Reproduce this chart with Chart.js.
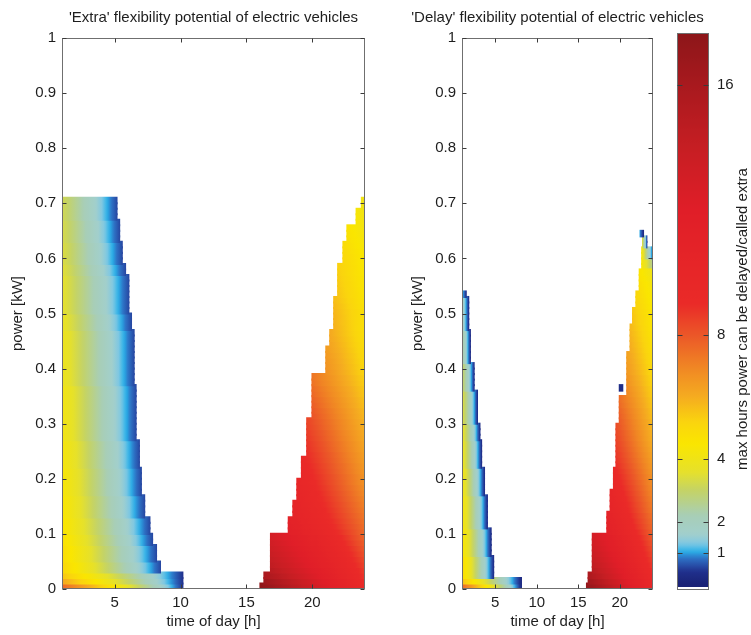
<!DOCTYPE html>
<html>
<head>
<meta charset="utf-8">
<title>Flexibility potential of electric vehicles</title>
<script src="https://cdn.jsdelivr.net/npm/chart.js@4.4.1/dist/chart.umd.min.js"></script>
<style>
  html, body { margin: 0; padding: 0; background: #ffffff; }
  #wrap { position: relative; width: 751px; height: 635px; overflow: hidden; }
  canvas { position: absolute; top: 0; }
</style>
</head>
<body>
<div id="wrap">
  <canvas id="extra" width="375" height="635" style="left:0px"></canvas>
  <canvas id="delay" width="376" height="635" style="left:375px"></canvas>
  <canvas id="cbar" width="91" height="635" style="left:660px"></canvas>
</div>
<script>
// ---- axis ticks -------------------------------------------------------
const hourTicks = [5, 10, 15, 20];
const barTicks = [1, 2, 4, 8, 16];
const barRange = [-0.19, 17.67];   // colour scale limits (hours)

// evening values are given at these two hours, one value per 0.01 kW row
const eveningAnchor = [16, 24];

// ---- 'Extra' panel: morning block, from 1 h up to the edge hour ----------
// each step covers power from the previous top to this top (kW)
const extraAmTop  = [0.01, 0.02, 0.03, 0.05, 0.08, 0.10, 0.13, 0.17, 0.22, 0.27, 0.37, 0.47, 0.50, 0.57, 0.59, 0.63, 0.67, 0.71];
const extraAmEdge = [10.2, 10.2, 10.2, 8.5, 8.2, 7.9, 7.7, 7.3, 7.05, 6.9, 6.65, 6.5, 6.3, 6.1, 5.85, 5.6, 5.4, 5.2];
const extraAmFrom = [7.6, 6.1, 5.5, 5.1, 4.9, 4.75, 4.6, 4.5, 4.4, 4.3, 4.15, 3.95, 3.8, 3.65, 3.55, 3.45, 3.35, 3.25];
const extraAmTo   = [0.4, 0.4, 0.4, 0.55, 0.55, 0.55, 0.55, 0.55, 0.55, 0.55, 0.55, 0.55, 0.55, 0.55, 0.55, 0.55, 0.55, 0.55];

// ---- 'Extra' panel: evening block, from the start hour to 24 h -----------
const extraPmTop   = [0.01, 0.03, 0.10, 0.13, 0.16, 0.20, 0.24, 0.31, 0.39, 0.44, 0.47, 0.53, 0.59, 0.63, 0.66, 0.69, 0.71];
const extraPmStart = [16.0, 16.3, 16.8, 18.15, 18.5, 18.8, 19.15, 19.55, 19.95, 21.0, 21.3, 21.6, 21.9, 22.3, 22.6, 23.3, 23.7];
const extraPmAt16  = [
  17.6, 17.0, 16.2, 15.6, 15.1, 14.8, 14.5, 14.2, 13.9, 13.6,
  13.0, 12.6, 12.4, 12.2, 12.1, 12.0, 11.9, 11.8, 11.7, 11.6,
  11.5, 11.4, 11.3, 11.2, 11.1, 11.0, 10.9, 10.8, 10.7, 10.6,
  10.5, 10.4, 10.25, 10.1, 9.95, 9.8, 9.65, 9.5, 9.4, 9.3,
  9.2, 9.1, 9.0, 8.9, 8.8, 8.7, 8.65, 8.6, 8.55, 8.5,
  8.4, 8.3, 8.2, 8.1, 8.0, 7.9, 7.8, 7.7, 7.6, 7.5,
  7.4, 7.3, 7.2, 7.1, 7.0, 6.9, 6.8, 6.7, 6.6, 6.5, 6.4];
const extraPmAt24  = [
  9.1, 8.9, 8.7, 8.55, 8.4, 8.25, 8.1, 7.95, 7.8, 7.65,
  7.55, 7.45, 7.35, 7.25, 7.15, 7.05, 6.95, 6.85, 6.75, 6.65,
  6.6, 6.5, 6.45, 6.35, 6.3, 6.2, 6.15, 6.05, 6.0, 5.9,
  5.85, 5.75, 5.7, 5.6, 5.55, 5.45, 5.4, 5.3, 5.25, 5.15,
  5.1, 5.05, 5.0, 4.95, 4.9, 4.85, 4.8, 4.78, 4.76, 4.74,
  4.72, 4.68, 4.62, 4.58, 4.56, 4.54, 4.52, 4.48, 4.46, 4.44,
  4.42, 4.38, 4.32, 4.28, 4.22, 4.18, 4.16, 4.14, 4.12, 4.08, 4.02];

// ---- 'Delay' panel: morning block ------------------------------------------
const delayAmTop  = [0.01, 0.02, 0.06, 0.11, 0.17, 0.22, 0.27, 0.30, 0.36, 0.41, 0.47, 0.53, 0.54];
const delayAmEdge = [8.2, 8.2, 4.85, 4.55, 4.1, 3.75, 3.4, 3.2, 2.9, 2.5, 2.05, 1.85, 1.55];
const delayAmFrom = [7.6, 5.6, 5.0, 4.6, 4.4, 4.2, 4.0, 3.9, 3.6, 3.2, 2.6, 2.0, 1.2];
const delayAmTo   = [0.2, 0.2, 0.3, 0.3, 0.3, 0.3, 0.3, 0.3, 0.3, 0.3, 0.3, 0.3, 0.3];

// ---- 'Delay' panel: evening block up to 0.58 kW ------------------------------
const delayPmTop   = [0.01, 0.03, 0.10, 0.14, 0.18, 0.22, 0.30, 0.35, 0.36, 0.43, 0.48, 0.51, 0.54, 0.58];
const delayPmStart = [15.95, 16.15, 16.65, 18.4, 18.8, 19.2, 19.5, 19.9, 20.8, 20.8, 21.2, 21.5, 21.9, 22.3];
const delayPmAt16  = [
  17.3, 16.6, 15.9, 15.4, 15.0, 14.6, 14.3, 14.0, 13.75, 13.5,
  13.0, 12.6, 12.4, 12.2, 12.1, 12.0, 11.85, 11.7, 11.55, 11.4,
  11.25, 11.1, 10.95, 10.8, 10.7, 10.6, 10.5, 10.4, 10.3, 10.2,
  10.1, 10.0, 9.85, 9.7, 9.55, 9.4, 9.25, 9.1, 8.95, 8.8,
  8.7, 8.6, 8.5, 8.4, 8.3, 8.2, 8.1, 8.0, 7.9, 7.8,
  7.7, 7.6, 7.5, 7.4, 7.3, 7.2, 7.1, 7.0];
const delayPmAt24  = [
  9.6, 9.3, 9.0, 8.8, 8.6, 8.45, 8.3, 8.15, 8.0, 7.85,
  7.7, 7.55, 7.45, 7.35, 7.2, 7.1, 7.0, 6.9, 6.8, 6.7,
  6.6, 6.5, 6.4, 6.3, 6.2, 6.1, 6.0, 5.9, 5.85, 5.75,
  5.7, 5.6, 5.55, 5.45, 5.4, 5.3, 5.25, 5.15, 5.1, 5.0,
  4.95, 4.9, 4.85, 4.8, 4.75, 4.7, 4.65, 4.6, 4.55, 4.5,
  4.45, 4.4, 4.35, 4.3, 4.25, 4.2, 4.1, 4.0];

// ---- 'Delay' panel: evening tip above 0.58 kW --------------------------------
const delayTipBase  = 0.58;
const delayTipTop   = [0.60, 0.62, 0.64, 0.65];
const delayTipStart = [22.6, 22.6, 22.7, 22.4];
const delayTipEnd   = [24, 23.9, 23.3, 22.9];
const delayTipFrom  = [4.4, 4.3, 3.5, 1.0];
const delayTipTo    = [2.5, 0.8, 0.3, 0.2];

// single isolated cell in the evening 'Delay' block
const delayDotPower = [0.36, 0.37];
const delayDotHours = [19.9, 20.4];
const delayDotValue = 0.3;

// ---- colour map: [hours, r, g, b] ------------------------------------------
const palette = [
  [0.0, 26, 34, 118], [0.4, 32, 48, 140], [0.6, 40, 78, 168], [0.85, 46, 118, 200],
  [1.0, 40, 165, 226], [1.1, 60, 182, 232], [1.3, 128, 200, 226], [1.6, 162, 207, 204],
  [2.2, 168, 206, 182], [3.0, 196, 211, 102], [3.6, 230, 225, 42], [4.5, 250, 230, 0],
  [5.2, 250, 212, 14], [6.0, 245, 172, 32], [7.0, 240, 132, 36], [8.0, 235, 86, 40],
  [9.0, 234, 42, 40], [12.0, 224, 30, 40], [14.0, 198, 30, 35], [16.0, 168, 25, 30],
  [17.7, 140, 22, 25]
];

function colormap(v) {
  if (v < -0.09) return '#ffffff';
  if (v <= palette[0][0]) return `rgb(${palette[0][1]},${palette[0][2]},${palette[0][3]})`;
  for (let i = 1; i < palette.length; i++) {
    if (v <= palette[i][0]) {
      const a = palette[i - 1], b = palette[i];
      const t = (v - a[0]) / (b[0] - a[0]);
      const c = [1, 2, 3].map(k => Math.round(a[k] + (b[k] - a[k]) * t));
      return `rgb(${c[0]},${c[1]},${c[2]})`;
    }
  }
  const z = palette[palette.length - 1];
  return `rgb(${z[1]},${z[2]},${z[3]})`;
}

// ---- tables of 0.01 kW rows built from the arrays ----------------------------
function pick(a, i) { return Array.isArray(a) ? a[i] : a; }

// ramp runs from the row's own start to its own end
function buildRows(tops, starts, ends, from, to, base) {
  const out = [];
  let lo = Math.round((base || 0) * 100);
  tops.forEach((top, i) => {
    const hi = Math.round(top * 100);
    for (let k = lo; k < hi; k++) {
      out.push({ y: (k + 0.5) / 100, x: [pick(starts, i), pick(ends, i)], v0: pick(from, i), v1: pick(to, i) });
    }
    lo = hi;
  });
  return out;
}

// ramp is pinned to fixed hours, values taken row by row
function buildAnchoredRows(tops, starts, ends, atA, atB, anchor) {
  const out = [];
  let lo = 0;
  tops.forEach((top, i) => {
    const hi = Math.round(top * 100);
    for (let k = lo; k < hi; k++) {
      out.push({ y: (k + 0.5) / 100, x: [pick(starts, i), pick(ends, i)], g: anchor, v0: atA[k], v1: atB[k] });
    }
    lo = hi;
  });
  return out;
}

// horizontal colour ramp along a row
function rowFill(c) {
  const chart = c.chart, r = c.raw;
  const xs = chart.scales && chart.scales.x;
  if (!r || !xs || !chart.chartArea) return 'rgba(0,0,0,0)';
  const span = r.g || r.x;
  const a = xs.getPixelForValue(span[0]), b = xs.getPixelForValue(span[1]);
  const g = chart.ctx.createLinearGradient(a, 0, b, 0);
  const n = 32;
  for (let i = 0; i <= n; i++) {
    const f = i / n;
    g.addColorStop(f, colormap(r.v0 + (r.v1 - r.v0) * f));
  }
  return g;
}

const FONT = "'Liberation Sans', Arial, Helvetica, sans-serif";
Chart.defaults.font.family = FONT;
Chart.defaults.font.size = 15;
Chart.defaults.color = '#1e1e1e';

// axes box with inward tick marks on all four sides, plus the panel heading
const frame = {
  id: 'frame',
  afterDatasetsDraw(chart, args, opts) {
    const { ctx, chartArea: a, scales } = chart;
    const L = Math.round(a.left) + 0.5, R = Math.round(a.right) - 0.5;
    const T = Math.round(a.top) + 0.5, B = Math.round(a.bottom) - 0.5;
    ctx.save();
    ctx.strokeStyle = '#6f6f6f';
    ctx.lineWidth = 1;
    ctx.strokeRect(L, T, R - L, B - T);
    ctx.strokeStyle = '#3a3a3a';
    ctx.beginPath();
    scales.x.ticks.forEach(t => {
      const x = Math.round(scales.x.getPixelForValue(t.value)) + 0.5;
      ctx.moveTo(x, B); ctx.lineTo(x, B - 4);
      ctx.moveTo(x, T); ctx.lineTo(x, T + 4);
    });
    scales.y.ticks.forEach(t => {
      const y = Math.round(scales.y.getPixelForValue(t.value)) + 0.5;
      ctx.moveTo(L, y); ctx.lineTo(L + 4, y);
      ctx.moveTo(R, y); ctx.lineTo(R - 4, y);
    });
    ctx.stroke();
    ctx.fillStyle = '#1e1e1e';
    ctx.font = '15px ' + FONT;
    ctx.textAlign = 'center';
    ctx.textBaseline = 'middle';
    ctx.fillText(opts.text, (a.left + a.right) / 2, 18);
    ctx.restore();
  }
};

function panel(id, title, blocks, dims) {
  return new Chart(document.getElementById(id), {
    type: 'bar',
    data: {
      datasets: blocks.map(rows => ({
        data: rows,
        backgroundColor: rowFill,
        borderWidth: 0,
        grouped: false,
        barPercentage: 1.3,
        categoryPercentage: 1,
        inflateAmount: 0.2
      }))
    },
    options: {
      indexAxis: 'y',
      responsive: false,
      animation: false,
      events: [],
      layout: { padding: { left: dims.padLeft, right: dims.padRight, top: 38, bottom: 0 } },
      plugins: {
        legend: { display: false },
        tooltip: { enabled: false },
        frame: { text: title }
      },
      scales: {
        x: {
          type: 'linear', min: 1, max: 24, offset: false,
          grid: { display: false, drawTicks: false }, border: { display: false },
          afterBuildTicks: s => { s.ticks = hourTicks.map(v => ({ value: v })); },
          ticks: { padding: 5, maxRotation: 0, autoSkip: false },
          title: { display: true, text: 'time of day [h]', padding: { top: 0, bottom: 4 } },
          afterFit: s => { s.height = 46; }
        },
        y: {
          type: 'linear', min: 0, max: 1, offset: false,
          grid: { display: false, drawTicks: false }, border: { display: false },
          ticks: { stepSize: 0.1, padding: 6, callback: v => String(+v.toFixed(1)) },
          title: { display: true, text: 'power [kW]', padding: { top: dims.yTitlePad, bottom: 0 } },
          afterFit: s => { s.width = dims.yWidth; }
        }
      }
    },
    plugins: [frame]
  });
}

panel('extra', "'Extra' flexibility potential of electric vehicles", [
  buildRows(extraAmTop, 1, extraAmEdge, extraAmFrom, extraAmTo),
  buildAnchoredRows(extraPmTop, extraPmStart, 24, extraPmAt16, extraPmAt24, eveningAnchor)
], { padLeft: 0, padRight: 10, yWidth: 62, yTitlePad: 9 });

panel('delay', "'Delay' flexibility potential of electric vehicles", [
  buildRows(delayAmTop, 1, delayAmEdge, delayAmFrom, delayAmTo),
  buildAnchoredRows(delayPmTop, delayPmStart, 24, delayPmAt16, delayPmAt24, eveningAnchor),
  buildRows(delayTipTop, delayTipStart, delayTipEnd, delayTipFrom, delayTipTo, delayTipBase),
  buildRows([delayDotPower[1]], delayDotHours[0], delayDotHours[1], delayDotValue, delayDotValue, delayDotPower[0])
], { padLeft: 32, padRight: 98, yWidth: 55, yTitlePad: 2 });

// ---- colour bar ------------------------------------------------------------
function barFill(c) {
  const chart = c.chart, ys = chart.scales && chart.scales.y;
  if (!ys || !chart.chartArea) return 'rgba(0,0,0,0)';
  const y0 = ys.getPixelForValue(barRange[0]), y1 = ys.getPixelForValue(barRange[1]);
  const g = chart.ctx.createLinearGradient(0, y0, 0, y1);
  const span = barRange[1] - barRange[0];
  const cut = (-0.09 - barRange[0]) / span;
  g.addColorStop(0, '#ffffff');
  g.addColorStop(cut, '#ffffff');
  const n = 160;
  for (let i = 0; i <= n; i++) {
    const f = cut + 0.0001 + (1 - cut - 0.0001) * i / n;
    g.addColorStop(Math.min(f, 1), colormap(barRange[0] + span * f));
  }
  return g;
}

const barFrame = {
  id: 'barFrame',
  afterDatasetsDraw(chart) {
    const { ctx, chartArea: a, scales } = chart;
    const L = Math.round(a.left) + 0.5, R = Math.round(a.right) - 0.5;
    const T = Math.round(a.top) + 0.5, B = Math.round(a.bottom) - 0.5;
    ctx.save();
    ctx.strokeStyle = '#6f6f6f';
    ctx.lineWidth = 1;
    ctx.strokeRect(L, T, R - L, B - T);
    ctx.strokeStyle = '#3a3a3a';
    ctx.beginPath();
    scales.y.ticks.forEach(t => {
      const y = Math.round(scales.y.getPixelForValue(t.value)) + 0.5;
      ctx.moveTo(L, y); ctx.lineTo(L + 5, y);
      ctx.moveTo(R, y); ctx.lineTo(R - 5, y);
    });
    ctx.stroke();
    // colour bar caption, read bottom to top
    ctx.translate(83, 319);
    ctx.rotate(-Math.PI / 2);
    ctx.fillStyle = '#1e1e1e';
    ctx.font = '15px ' + FONT;
    ctx.textAlign = 'center';
    ctx.textBaseline = 'middle';
    ctx.fillText('max hours power can be delayed/called extra', 0, 0);
    ctx.restore();
  }
};

new Chart(document.getElementById('cbar'), {
  type: 'bar',
  data: {
    labels: [''],
    datasets: [{ data: [barRange], backgroundColor: barFill, borderWidth: 0, barPercentage: 1, categoryPercentage: 1 }]
  },
  options: {
    responsive: false,
    animation: false,
    events: [],
    layout: { padding: { left: 17, right: 0, top: 33, bottom: 45 } },
    plugins: { legend: { display: false }, tooltip: { enabled: false } },
    scales: {
      x: { display: false },
      y: {
        position: 'right', min: barRange[0], max: barRange[1],
        grid: { display: false, drawTicks: false }, border: { display: false },
        afterBuildTicks: s => { s.ticks = barTicks.map(v => ({ value: v })); },
        ticks: { padding: 8 },
        afterFit: s => { s.width = 42; }
      }
    }
  },
  plugins: [barFrame]
});
</script>
</body>
</html>
